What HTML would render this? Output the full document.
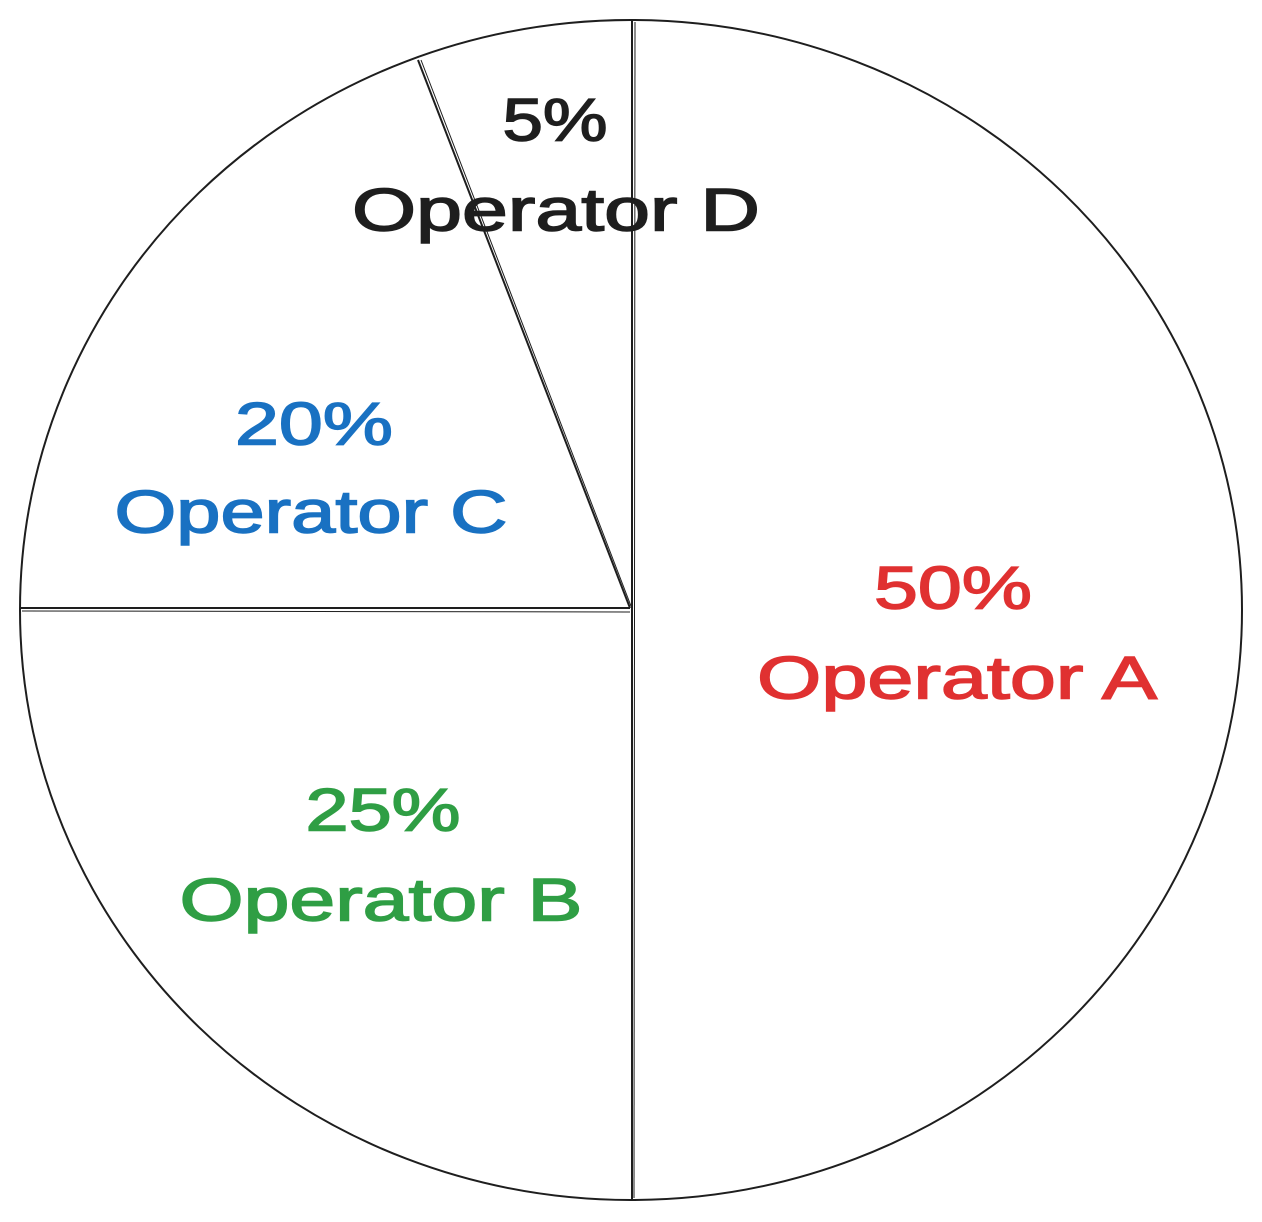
<!DOCTYPE html>
<html><head><meta charset="utf-8"><style>
html,body{margin:0;padding:0;background:#fff;}
svg{display:block;}
text{font-family:"Liberation Sans",sans-serif;font-size:60px;dominant-baseline:central;text-anchor:middle;stroke-width:1.5;}
</style></head><body>
<svg width="1262" height="1222" viewBox="0 0 1262 1222" xmlns="http://www.w3.org/2000/svg">
<g fill="none" stroke="#1e1e1e" stroke-width="2">
<ellipse cx="631" cy="610" rx="611" ry="590"/>
<path d="M632 20 L632 1200"/>
<path d="M635 22 L634 1198" stroke-width="1"/>
<path d="M20 608 L630 608"/>
<path d="M22 611 L630 612" stroke-width="1"/>
<path d="M418 60 L630 608"/>
<path d="M421 60 L631 606" stroke-width="1"/>
</g>
<text x="555" y="120" fill="#1e1e1e" stroke="#1e1e1e" textLength="105" lengthAdjust="spacingAndGlyphs">5%</text>
<text x="556" y="210" fill="#1e1e1e" stroke="#1e1e1e" textLength="408" lengthAdjust="spacingAndGlyphs">Operator D</text>
<text x="314" y="424" fill="#1971c2" stroke="#1971c2" textLength="158" lengthAdjust="spacingAndGlyphs">20%</text>
<text x="311" y="512" fill="#1971c2" stroke="#1971c2" textLength="393" lengthAdjust="spacingAndGlyphs">Operator C</text>
<text x="953" y="588" fill="#e03131" stroke="#e03131" textLength="158" lengthAdjust="spacingAndGlyphs">50%</text>
<text x="957" y="678" fill="#e03131" stroke="#e03131" textLength="400" lengthAdjust="spacingAndGlyphs">Operator A</text>
<text x="383" y="810" fill="#2f9e44" stroke="#2f9e44" textLength="155" lengthAdjust="spacingAndGlyphs">25%</text>
<text x="381" y="900" fill="#2f9e44" stroke="#2f9e44" textLength="403" lengthAdjust="spacingAndGlyphs">Operator B</text>
</svg>
</body></html>
